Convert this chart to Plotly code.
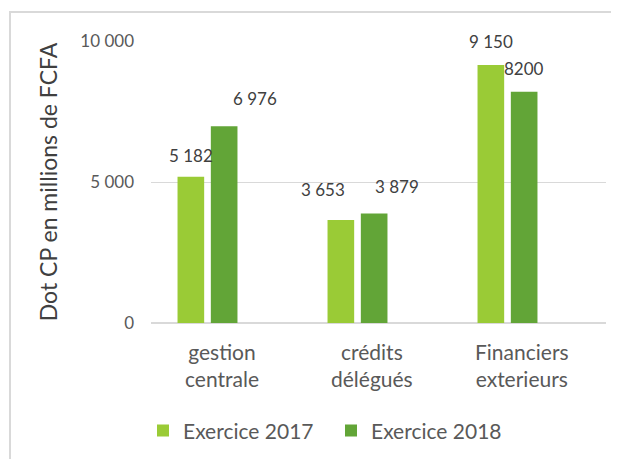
import plotly.graph_objects as go

categories = ["gestion centrale", "crédits délégués", "Financiers exterieurs"]
category_labels = ["gestion<br>centrale", "crédits<br>délégués", "Financiers<br>exterieurs"]
series_names = ["Exercice 2017", "Exercice 2018"]
values_2017 = [5182, 3653, 9150]
values_2018 = [6976, 3879, 8200]
labels_2017 = ["5 182", "3 653", "9 150"]
labels_2018 = ["6 976", "3 879", "8200"]
tick_vals = [0, 5000, 10000]
tick_text = ["0", "5 000", "10 000"]

c_light = "#9ACB36"
c_dark = "#62A537"
txt = "#595959"
font_family = "Lato, 'Open Sans', sans-serif"

W, H = 611, 451
L, R, T, B = 143, 13, 33, 136
pw, ph = W - L - R, H - T - B

fig = go.Figure()
fig.add_trace(go.Bar(x=categories, y=values_2017, name=series_names[0],
                     marker=dict(color=c_light, line=dict(width=0))))
fig.add_trace(go.Bar(x=categories, y=values_2018, name=series_names[1],
                     marker=dict(color=c_dark, line=dict(width=0))))

# label offsets (px) relative to category centre / bar top
off_2017 = [(-16.5, 21), (-35, 30), (-16.5, 23)]
off_2018 = [(47.5, 28), (39.5, 27), (16, 23)]
annotations = []
for i, cat in enumerate(categories):
    for vals, labs, offs in ((values_2017, labels_2017, off_2017),
                             (values_2018, labels_2018, off_2018)):
        annotations.append(dict(x=cat, y=vals[i], xref="x", yref="y", text=labs[i],
                                showarrow=False, xshift=offs[i][0], yshift=offs[i][1],
                                xanchor="center", yanchor="middle",
                                font=dict(size=17, color="#404040", family=font_family)))
    annotations.append(dict(x=cat, y=0, xref="x", yref="paper", text=category_labels[i],
                            showarrow=False, xshift=14, yshift=-14,
                            xanchor="center", yanchor="top", align="center",
                            font=dict(size=21, color=txt, family=font_family)))

fig.update_layout(
    width=W, height=H,
    margin=dict(l=L, r=R, t=T, b=B, autoexpand=False),
    paper_bgcolor="white", plot_bgcolor="white",
    font=dict(family=font_family, color=txt),
    barmode="group", bargap=0.556, bargroupgap=0.2,
    showlegend=True,
    legend=dict(orientation="h", x=(135 - L) / pw, xanchor="left", y=-0.31, yanchor="top",
                font=dict(size=21, color=txt), itemwidth=30, traceorder="normal",
                entrywidth=143, entrywidthmode="pixels"),
    xaxis=dict(type="category", range=[-0.3767, 2.6567], showgrid=False,
               showline=False, ticks="", showticklabels=False),
    yaxis=dict(range=[0, 10000], tickvals=tick_vals, ticktext=tick_text,
               showgrid=True, gridcolor="#D9D9D9", gridwidth=1.3,
               zeroline=True, zerolinecolor="#D9D9D9", zerolinewidth=1.5,
               showline=False, ticks="", ticklabelstandoff=16,
               tickfont=dict(size=17, color=txt),
               title=dict(text="Dot CP en millions de FCFA", standoff=16,
                          font=dict(size=23, color="#404040"))),
    annotations=annotations,
    shapes=[dict(type="rect", xref="paper", yref="paper",
                 x0=(2 - L) / pw, x1=1.2, y0=-0.6, y1=1 + (T - 4) / ph,
                 line=dict(color="#D9D9D9", width=2), fillcolor="rgba(0,0,0,0)",
                 layer="below")],
)

fig.write_html("out.html")
